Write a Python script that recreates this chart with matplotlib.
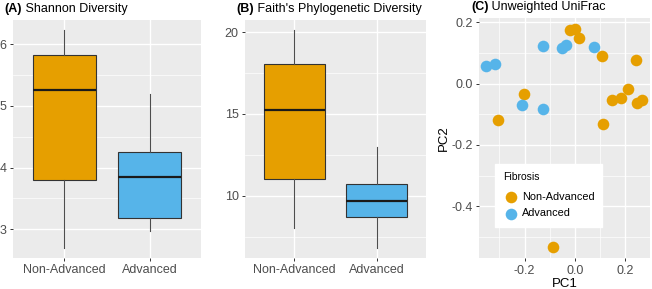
import matplotlib.pyplot as plt
import numpy as np
from matplotlib.ticker import MultipleLocator

plt.rcParams['font.family'] = ['Liberation Sans', 'DejaVu Sans']

# box stats: whisker low, Q1, median, Q3, whisker high
groups = ["Non-Advanced", "Advanced"]
shannon_non = [2.70, 3.80, 5.25, 5.82, 6.23]
shannon_adv = [2.97, 3.19, 3.84, 4.26, 5.19]
faith_non = [8.00, 11.02, 15.27, 18.06, 20.14]
faith_adv = [6.81, 8.67, 9.65, 10.70, 13.00]

# PCoA coordinates (unweighted UniFrac)
non_pc1 = [-0.020, 0.000, 0.016, 0.106, 0.241, -0.201, -0.305, 0.146, 0.181, 0.212, 0.248, 0.265, 0.113, -0.086]
non_pc2 = [0.175, 0.178, 0.150, 0.090, 0.077, -0.035, -0.118, -0.053, -0.046, -0.018, -0.064, -0.055, -0.132, -0.532]
adv_pc1 = [-0.354, -0.318, -0.126, -0.053, -0.036, 0.077, -0.209, -0.128]
adv_pc2 = [0.059, 0.064, 0.123, 0.115, 0.126, 0.119, -0.071, -0.083]

orange = '#E69F00'
blue = '#56B4E9'
W, H = 652, 289

fig = plt.figure(figsize=(W / 100, H / 100), dpi=100)


def px_axes(left, top, right, bottom):
    return fig.add_axes([left / W, 1 - bottom / H, (right - left) / W, (bottom - top) / H])


def gg_style(ax):
    ax.set_facecolor('#EBEBEB')
    for s in ax.spines.values():
        s.set_visible(False)
    ax.grid(which='major', color='white', linewidth=1.0, zorder=0)
    ax.grid(which='minor', color='white', linewidth=0.5, zorder=0)
    ax.set_axisbelow(True)
    ax.tick_params(which='major', length=2.5, width=0.7, color='#333333',
                   labelcolor='#4D4D4D', labelsize=9, pad=2)
    ax.tick_params(which='minor', length=0)


def panel_title(ax, tag, text):
    # bold tag followed by plain title, placed just above the panel
    t = ax.annotate(tag, xy=(0, 1), xycoords='axes fraction', xytext=(-6, 5.8),
                    textcoords='offset points', fontsize=9, fontweight='bold',
                    ha='left', va='baseline')
    ax.annotate(' ' + text, xy=(1, 0), xycoords=t, fontsize=9, va='bottom', ha='left')


def boxes(ax, stats_list):
    stats = []
    for s, name in zip(stats_list, groups):
        stats.append(dict(whislo=s[0], q1=s[1], med=s[2], q3=s[3], whishi=s[4], label=name))
    bp = ax.bxp(stats, positions=[1, 2], widths=0.74, patch_artist=True, showfliers=False,
                showcaps=False,
                boxprops=dict(edgecolor='#333333', linewidth=0.8),
                whiskerprops=dict(color='#4D4D4D', linewidth=0.8),
                medianprops=dict(color='#1a1a1a', linewidth=1.6))
    for patch, c in zip(bp['boxes'], [orange, blue]):
        patch.set_facecolor(c)
        patch.set_zorder(2)
    ax.set_xlim(0.4, 2.6)
    ax.set_xticks([1, 2])
    ax.set_xticklabels(groups)


# (A) Shannon
axA = px_axes(13, 20, 201, 258)
gg_style(axA)
boxes(axA, [shannon_non, shannon_adv])
axA.set_ylim(2.535, 6.39)
axA.yaxis.set_major_locator(MultipleLocator(1))
axA.yaxis.set_minor_locator(MultipleLocator(0.5))
panel_title(axA, '(A)', 'Shannon Diversity')

# (B) Faith's PD
axB = px_axes(245, 20, 426, 258)
gg_style(axB)
boxes(axB, [faith_non, faith_adv])
axB.set_ylim(6.19, 20.75)
axB.yaxis.set_major_locator(MultipleLocator(5))
axB.yaxis.set_minor_locator(MultipleLocator(2.5))
panel_title(axB, '(B)', "Faith's Phylogenetic Diversity")

# (C) PCoA
axC = px_axes(479.3, 18.3, 650, 258.3)
gg_style(axC)
axC.scatter(non_pc1, non_pc2, s=70, color=orange, linewidths=0, zorder=3, label='Non-Advanced')
axC.scatter(adv_pc1, adv_pc2, s=70, color=blue, linewidths=0, zorder=3, label='Advanced')
axC.set_xlim(-0.380, 0.298)
axC.set_ylim(-0.57, 0.213)
axC.xaxis.set_major_locator(MultipleLocator(0.2))
axC.xaxis.set_minor_locator(MultipleLocator(0.1))
axC.yaxis.set_major_locator(MultipleLocator(0.2))
axC.yaxis.set_minor_locator(MultipleLocator(0.1))
axC.xaxis.set_major_formatter(lambda v, p: f"{v:.1f}")
axC.yaxis.set_major_formatter(lambda v, p: f"{v:.1f}")
axC.set_xlabel('PC1', fontsize=9.5, labelpad=1)
axC.set_ylabel('PC2', fontsize=9.5, labelpad=1)
panel_title(axC, '(C)', 'Unweighted UniFrac')
leg = axC.legend(title='Fibrosis', loc='lower left', bbox_to_anchor=(0.093, 0.132),
                 borderaxespad=0, fontsize=7.8, title_fontsize=7.5, frameon=True,
                 fancybox=False, edgecolor='white', facecolor='white', framealpha=1,
                 handletextpad=0.3, handlelength=1.4, borderpad=0.75, labelspacing=0.6)
leg._legend_box.align = 'left'
leg._legend_box.sep = 7

plt.savefig('out.png', dpi=100)
